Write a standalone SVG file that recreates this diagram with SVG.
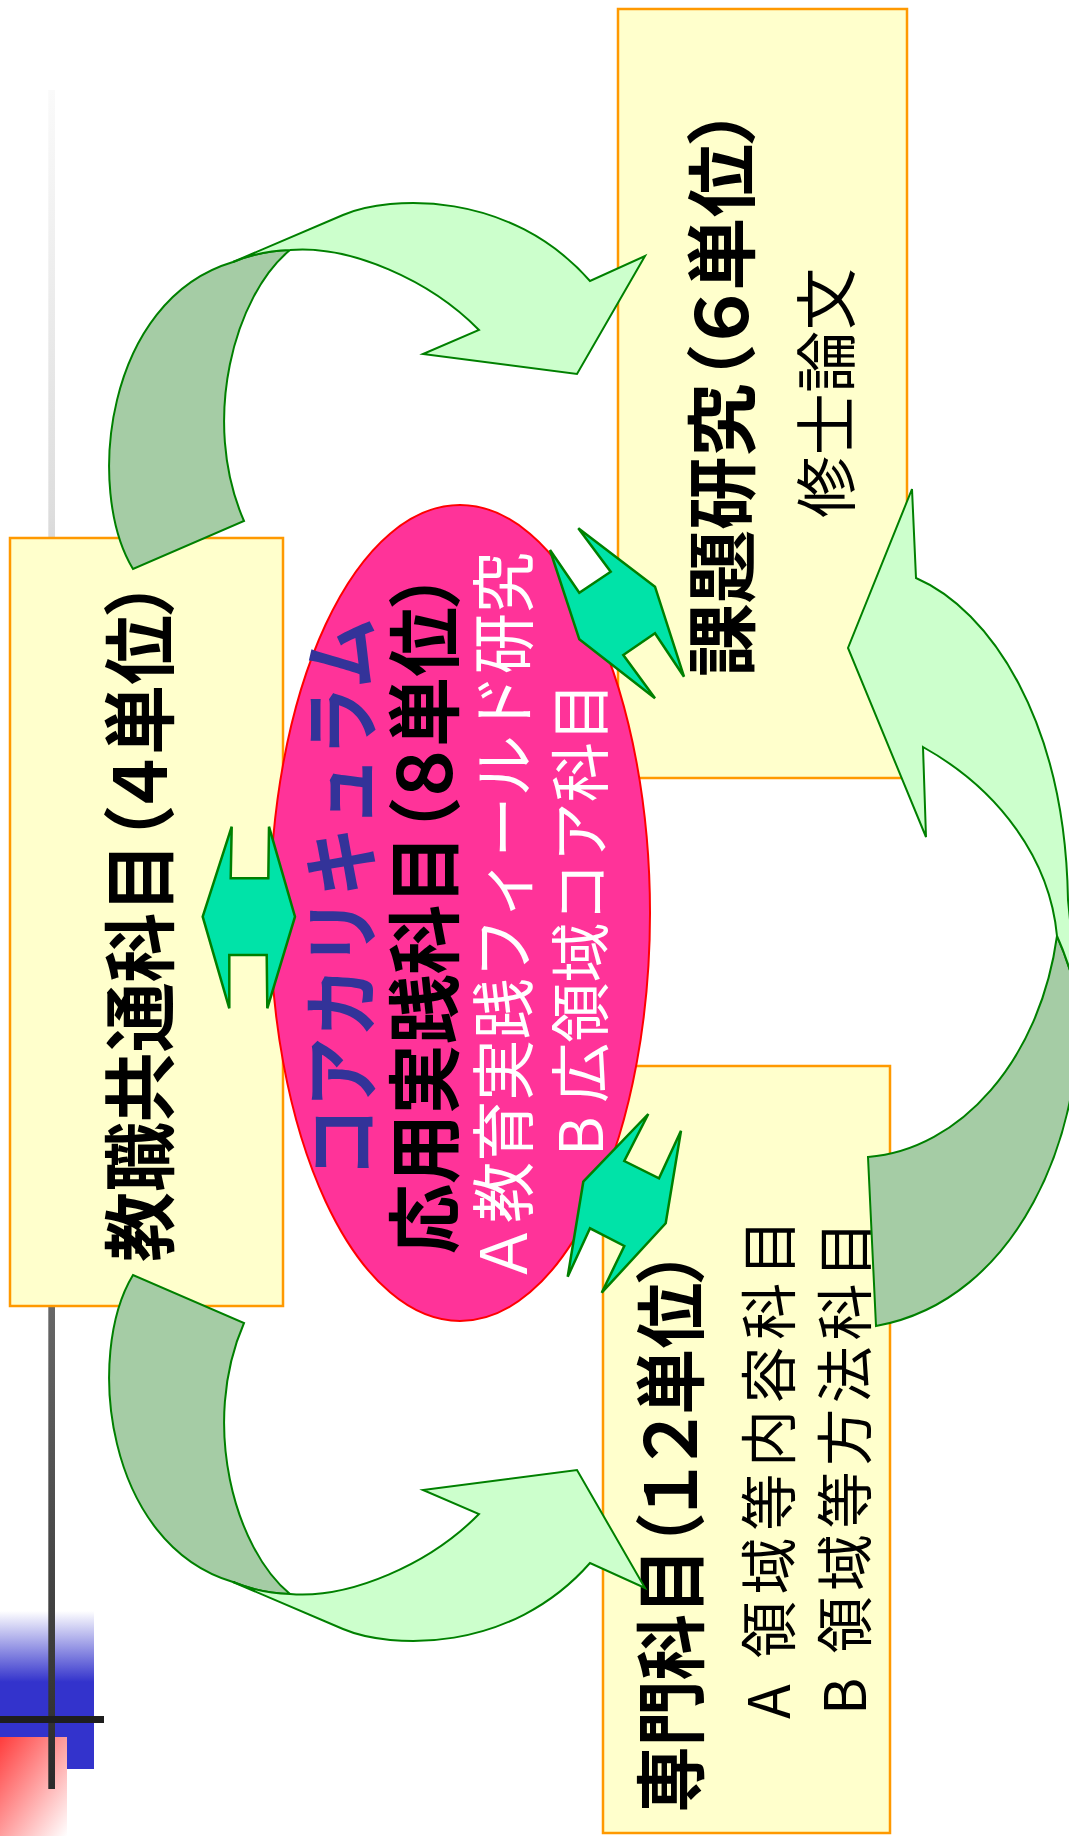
<svg xmlns="http://www.w3.org/2000/svg" width="1069" height="1836" viewBox="0 0 1069 1836">
<style>
.box{fill:#FFFFCC;stroke:#FF9900;stroke-width:2.5}
.jp{font-family:"Noto Sans CJK JP","Liberation Sans",sans-serif;text-anchor:middle;dominant-baseline:central}
.p{font-feature-settings:"palt" 1}
.b{font-weight:bold;fill:#000}
.r{font-weight:normal;fill:#000}
.w{font-weight:normal;fill:#FFFFFF}
.cl{fill:#CCFFCC;stroke:#008000;stroke-width:2;stroke-linejoin:miter}
.cd{fill:#A5CCA5;stroke:#008000;stroke-width:2}
.da{fill:#00E3A8;stroke:#008000;stroke-width:2.5;stroke-linejoin:miter}
</style>
<defs>
<linearGradient id="gLine" x1="0" y1="90" x2="0" y2="1789" gradientUnits="userSpaceOnUse">
<stop offset="0" stop-color="#FAFAFA"/>
<stop offset="0.25" stop-color="#DDDDDD"/>
<stop offset="0.72" stop-color="#666666"/>
<stop offset="1" stop-color="#2A2A2A"/>
</linearGradient>
<linearGradient id="gBlue" x1="0" y1="1611" x2="0" y2="1682" gradientUnits="userSpaceOnUse">
<stop offset="0" stop-color="#FFFFFF"/>
<stop offset="1" stop-color="#3333CC"/>
</linearGradient>
<linearGradient id="gRed" x1="0" y1="0" x2="1" y2="1">
<stop offset="0" stop-color="#FF3C3C"/>
<stop offset="1" stop-color="#FFFFFF"/>
</linearGradient>
</defs>
<rect width="1069" height="1836" fill="#FFFFFF"/>
<g id="decoration">
<rect x="0" y="1611" width="94" height="158" fill="url(#gBlue)"/>
<rect x="0" y="1737" width="67" height="99" fill="url(#gRed)"/>
<rect x="48.3" y="90" width="6.7" height="1699" fill="url(#gLine)"/>
<rect x="0" y="1716" width="104" height="7" fill="#1E1E1E"/>
</g>
<g id="node-kyoshoku">
<rect class="box" x="10" y="538" width="273" height="768"/>
<text class="jp p b" font-size="73" textLength="682" lengthAdjust="spacingAndGlyphs" transform="translate(135,921) rotate(-90)">教職共通科目（４単位）</text>
</g>
<g id="node-kadai">
<rect class="box" x="618" y="9" width="289" height="769"/>
<text class="jp p b" font-size="71" textLength="570" lengthAdjust="spacingAndGlyphs" transform="translate(717,392) rotate(-90)">課題研究（６単位）</text>
<text class="jp r" font-size="62" textLength="250" lengthAdjust="spacing" transform="translate(823,393) rotate(-90)">修士論文</text>
</g>
<g id="node-senmon">
<rect class="box" x="603" y="1066" width="287" height="767"/>
<text class="jp p b" font-size="71" textLength="563" lengthAdjust="spacingAndGlyphs" transform="translate(666,1531) rotate(-90)">専門科目（１２単位）</text>
<text class="jp r" font-size="57" textLength="500" lengthAdjust="spacing" transform="translate(765,1469) rotate(-90)">A 領域等内容科目</text>
<text class="jp r" font-size="57" textLength="494" lengthAdjust="spacing" transform="translate(841,1468) rotate(-90)">B 領域等方法科目</text>
</g>
<g id="node-core">
<ellipse cx="460" cy="913" rx="190" ry="408" fill="#FF3399" stroke="#FF0000" stroke-width="2"/>
<text class="jp" font-weight="bold" fill="#333399" font-size="78" textLength="560" lengthAdjust="spacingAndGlyphs" transform="translate(337,898) rotate(-90)">コアカリキュラム</text>
<text class="jp p b" font-size="74" textLength="682" lengthAdjust="spacingAndGlyphs" transform="translate(419,913) rotate(-90)">応用実践科目（８単位）</text>
<text class="jp w" font-size="64" textLength="732" lengthAdjust="spacingAndGlyphs" transform="translate(499,918) rotate(-90)">Ａ教育実践フィールド研究</text>
<text class="jp w" font-size="60" textLength="474" lengthAdjust="spacing" transform="translate(576,919) rotate(-90)">B 広領域コア科目</text>
</g>
<g id="connectors">
<g id="arrow-top-left">
<path class="cd" d="M133,569 C85,490 105,300 233,262 Q260,251 290,250 C235,295 200,420 244,521 Z"/>
<path class="cl" d="M233,262 L343,215 C390,195 510,190 590,281 L645,256 L577,374 L423,354 L479,330 C430,280 350,245 290,250 Q260,251 233,262 Z"/>
</g>
<g id="arrow-bottom-left" transform="translate(0,1844) scale(1,-1)">
<path class="cd" d="M133,569 C85,490 105,300 233,262 Q260,251 290,250 C235,295 200,420 244,521 Z"/>
<path class="cl" d="M233,262 L343,215 C390,195 510,190 590,281 L645,256 L577,374 L423,354 L479,330 C430,280 350,245 290,250 Q260,251 233,262 Z"/>
</g>
<g id="arrow-right">
<path class="cd" d="M868,1157 C960,1150 1040,1060 1057,936 Q1070,965 1078,1000 C1085,1130 1020,1300 876,1326 Z"/>
<path class="cl" d="M1057,936 C1050,860 1000,790 923,747 L926,837 L848,648 L912,489 L916,578 C990,610 1065,720 1068,900 L1078,1000 Q1070,965 1057,936 Z"/>
</g>
<polygon id="dbl-left" class="da" points="202.7,916.7 231.7,826.7 230.7,878.3 268.3,878.3 269,826.7 295,916.7 267.3,1008.3 266.7,955 229.3,955 229.3,1008.3"/>
<polygon id="dbl-top" class="da" points="578.3,528.3 610.7,571.7 579.3,592.7 550,550 579.3,639.3 655,698.3 623.3,655 655,633.3 684,676.7 655,586.7"/>
<polygon id="dbl-bottom" class="da" points="648.3,1114 624.3,1161 659,1178.3 681,1130.7 665.7,1223.3 601.7,1292.7 624.3,1246 590,1228.3 567.7,1276.7 583.3,1181.7"/>
</g>
</svg>
